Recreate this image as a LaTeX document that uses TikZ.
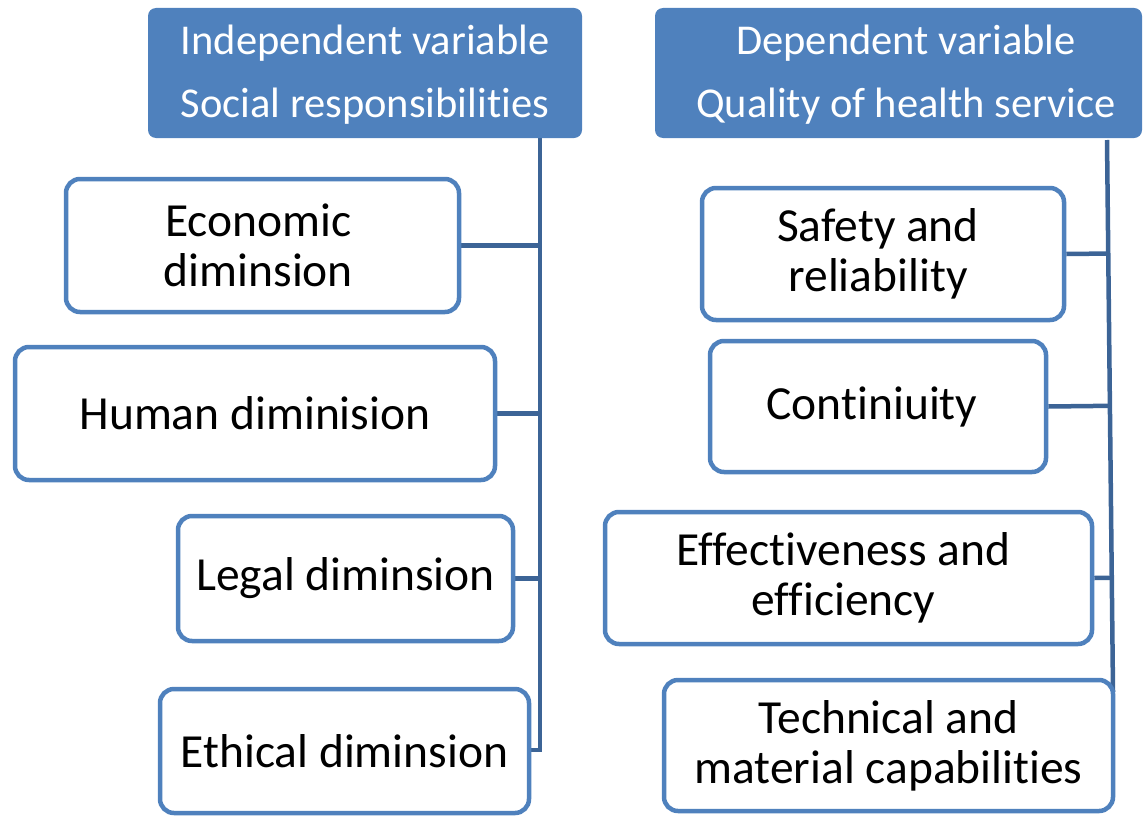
\documentclass[tikz,border=0pt]{standalone}
\usepackage{fontspec}
\setmainfont{Carlito}[Ligatures={NoCommon}]
\usetikzlibrary{calc}
\definecolor{accent}{RGB}{79,129,189}
\definecolor{linkblue}{RGB}{60,100,150}
\pgfdeclarelayer{links}
\pgfsetlayers{links,main}
\begin{document}
\begin{tikzpicture}[x=1pt,y=-1pt,
  head/.style={fill=accent, rounded corners=8pt, inner sep=0pt},
  headtext/.style={text=white, inner sep=0pt,
    font=\fontsize{42.5}{63}\selectfont, align=center},
  dim/.style={draw=accent, line width=4.5pt, rounded corners=14pt, fill=white,
    inner sep=0pt},
  dimtext/.style={inner sep=0pt, font=\fontsize{47.5}{50}\selectfont, align=center},
  link/.style={draw=linkblue, line width=4.5pt}]
\useasboundingbox (0,0) rectangle (1147,816);

% spine positions
\coordinate (spL) at (540,0);
\coordinate (rt) at (1107,140);
\coordinate (rb) at (1113,692);

% headers
\node[head, minimum width=434pt, minimum height=130pt,
  label={[headtext, yshift=-1.5pt]center:Independent variable\\Social responsibilities}]
  (headL) at (365,73) {};
\node[head, minimum width=487pt, minimum height=130pt,
  label={[headtext, xshift=7.5pt, yshift=-1.5pt]center:Dependent variable\\Quality of health service}]
  (headR) at (898.5,73) {};

% left dimensions
\node[dim, minimum width=393pt, minimum height=133pt,
  label={[dimtext, xshift=-4pt]center:Economic\\diminsion}] (econ) at (262.5,245.5) {};
\node[dim, minimum width=480pt, minimum height=133pt,
  label={[dimtext]center:Human diminision}] (human) at (255,413.5) {};
\node[dim, minimum width=335pt, minimum height=125pt,
  label={[dimtext]center:Legal diminsion}] (legal) at (345.5,578.5) {};
\node[dim, minimum width=369pt, minimum height=124pt,
  label={[dimtext]center:Ethical diminsion}] (ethic) at (344.5,751) {};

% right dimensions
\node[dim, minimum width=362pt, minimum height=132pt,
  label={[dimtext, xshift=-5pt]center:Safety and\\reliability}] (safety) at (883,254) {};
\node[dim, minimum width=336pt, minimum height=131pt,
  label={[dimtext, xshift=-6pt]center:Continiuity}] (cont) at (878,406.5) {};
\node[dim, minimum width=487pt, minimum height=132pt,
  label={[dimtext, xshift=-5pt]center:Effectiveness and\\efficiency}] (effect) at (848.5,578) {};
\node[dim, minimum width=449pt, minimum height=131pt,
  label={[dimtext]center:Technical and\\material capabilities}] (tech) at (888.5,745.5) {};

\begin{pgfonlayer}{links}
% left spine and its branches
\draw[link] ([yshift=2pt]headL.south -| spL) -- ([yshift=1pt]ethic.east -| spL)
  -- ([yshift=1pt]ethic.east);
\draw[link] (econ.east) -- (econ.east -| spL);
\draw[link] (human.east) -- (human.east -| spL);
\draw[link] (legal.east) -- (legal.east -| spL);

% right spine and its branches
\draw[link] (rt) -- (rb);
\draw[link] (safety.east) -- ($(rt)!(safety.east)!(rb)$);
\draw[link] (cont.east) -- ($(rt)!(cont.east)!(rb)$);
\draw[link] (effect.east) -- ($(rt)!(effect.east)!(rb)$);
\end{pgfonlayer}
\end{tikzpicture}
\end{document}
